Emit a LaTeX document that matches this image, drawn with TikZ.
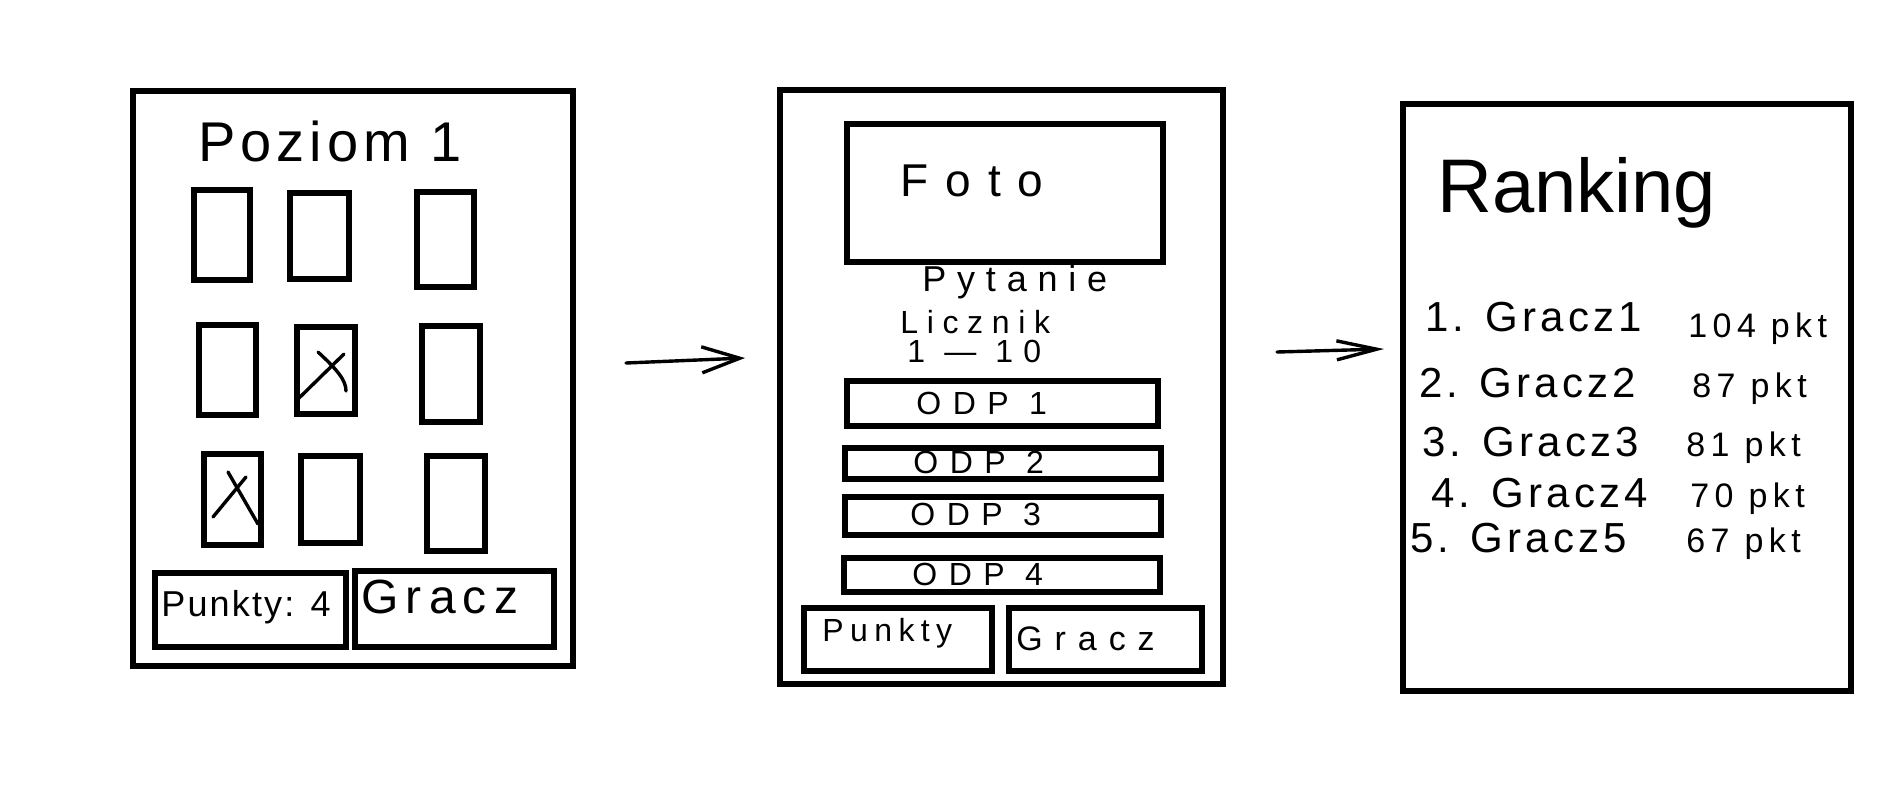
\documentclass[tikz,border=0pt]{standalone}
\usepackage{fontspec}
\setmainfont{Liberation Sans}
\usetikzlibrary{arrows.meta,calc}
\newcommand{\hw}[2]{\fontsize{#1pt}{#1pt}\selectfont\addfontfeatures{LetterSpace=#2}}
\tikzset{
  bx/.style 2 args={draw, line width=2.6pt, inner sep=0pt, minimum width=#1*0.5pt, minimum height=#2*0.5pt},
  txt/.style={inner sep=0pt, anchor=base west},
  pen/.style={line width=1.7pt, line cap=round},
  arr/.style 2 args={pen, -{Straight Barb[length=#1*0.5pt, width=#2*0.5pt, line width=1.7pt]}}
}
\begin{document}
\begin{tikzpicture}[x=0.5pt,y=-0.5pt]
\useasboundingbox[fill=white] (0,0) rectangle (1902,789);
% ---------- screen 1
\node[bx={440}{575}] (f1) at (353,378.5) {};
\node[txt] (poz) at (198,161) {\hw{28}{9}Poziom 1};
\node[bx={56}{90}] (c11) at (222,235) {};
\node[bx={59}{86}] (c12) at (319.5,236) {};
\node[bx={57}{95}] (c13) at (445.5,239.5) {};
\node[bx={57}{90}] (c21) at (227.5,370) {};
\node[bx={58}{87}] (c22) at (326,370.5) {};
\node[bx={58}{96}] (c23) at (451,374) {};
\node[bx={57}{91}] (c31) at (232.5,499.5) {};
\node[bx={59}{87}] (c32) at (330.5,499.5) {};
\node[bx={58}{95}] (c33) at (456,503.5) {};
\draw[pen] ($(c22)+(-29,29.5)$) -- ($(c22)+(18,-16.5)$);
\draw[pen] ($(c22)+(-8,-18.5)$) .. controls ($(c22)+(12,0)$) and ($(c22)+(20,10)$) .. ($(c22)+(20,20.5)$);
\draw[pen] ($(c31)+(-19.5,17.5)$) -- ($(c31)+(13.5,-22.5)$);
\draw[pen] ($(c31)+(-4.5,-27.5)$) -- ($(c31)+(25.5,24.5)$);
\node[bx={191}{74}] (pk1) at (250.5,610) {};
\node[bx={199}{76}] (gr1) at (454.5,609) {};
\node[txt] (pk1t) at (161,616) {\hw{18}{6}Punkty: 4};
\node[txt] (gr1t) at (361,613) {\hw{24}{15}Gracz};
% ---------- arrow 1
\coordinate (a1s) at (626,363);
\coordinate (a1e) at (745,358);
\draw[arr={38}{26}] (a1s) -- (a1e);
% ---------- screen 2
\node[bx={443}{594}] (f2) at (1001.5,387) {};
\node[bx={316}{138}] (foto) at (1005,193) {};
\node[txt] (fotot) at (900,196) {\hw{23}{37}Foto};
\node[txt] (pyt) at (922,291) {\hw{18}{30}Pytanie};
\node[txt] (lic) at (900,333) {\hw{16}{27}Licznik};
\node[txt] (licn) at (907,362) {\hw{16}{32}1 — 10};
\node[bx={311}{45}] (o1) at (1002.5,403.5) {};
\node[bx={316}{31}] (o2) at (1003,463.5) {};
\node[bx={316}{38}] (o3) at (1003,516) {};
\node[bx={316}{34}] (o4) at (1002,575) {};
\node[txt] (o1t) at (916,414) {\hw{16}{36}ODP 1};
\node[txt] (o2t) at (913,473) {\hw{16}{36}ODP 2};
\node[txt] (o3t) at (910,525) {\hw{16}{36}ODP 3};
\node[txt] (o4t) at (912,585) {\hw{16}{36}ODP 4};
\node[bx={188}{63}] (pk2) at (898,639.5) {};
\node[bx={193}{63}] (gr2) at (1105.5,639.5) {};
\node[txt] (pk2t) at (822,641) {\hw{16}{20}Punkty};
\node[txt] (gr2t) at (1016,650) {\hw{17}{35}Gracz};
% ---------- arrow 2
\coordinate (a2s) at (1277,352);
\coordinate (a2e) at (1384,349);
\draw[arr={40}{19}] (a2s) -- (a2e);
% ---------- screen 3
\node[bx={448}{587}] (f3) at (1627,397.5) {};
\node[txt] (rank) at (1437,212) {\hw{38}{0}Ranking};
\node[txt] (r1) at (1425,331) {\hw{21}{10}1. Gracz1};
\node[txt] (r2) at (1419,397) {\hw{21}{10}2. Gracz2};
\node[txt] (r3) at (1422,456) {\hw{21}{10}3. Gracz3};
\node[txt] (r4) at (1431,507) {\hw{21}{10}4. Gracz4};
\node[txt] (r5) at (1410,552) {\hw{21}{10}5. Gracz5};
\node[txt] (p1) at (1688,337) {\hw{17}{16}104 pkt};
\node[txt] (p2) at (1692,397) {\hw{17}{16}87 pkt};
\node[txt] (p3) at (1686,456) {\hw{17}{16}81 pkt};
\node[txt] (p4) at (1690,507) {\hw{17}{16}70 pkt};
\node[txt] (p5) at (1686,552) {\hw{17}{16}67 pkt};
\end{tikzpicture}
\end{document}
